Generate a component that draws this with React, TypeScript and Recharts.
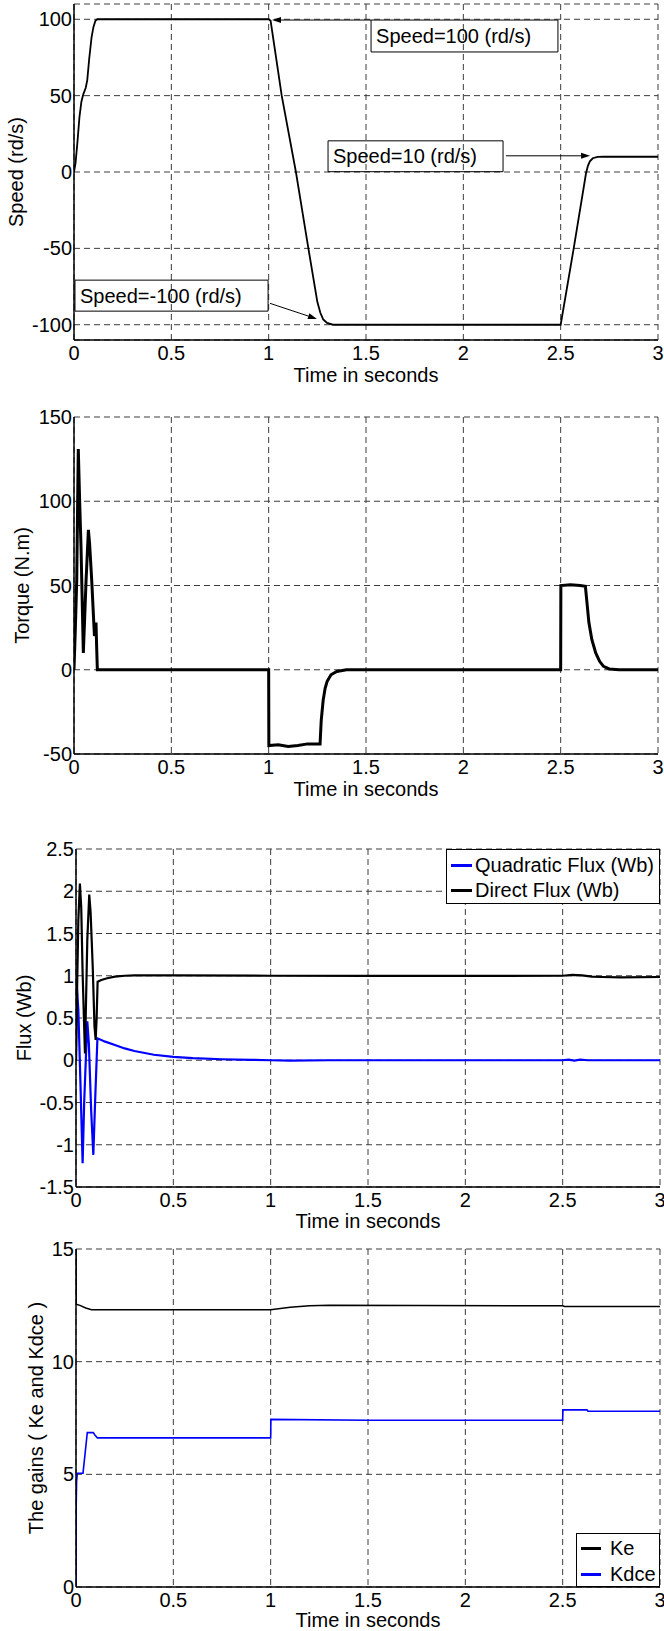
import React from "react";
import {
    LineChart,
    Line,
    XAxis,
    YAxis,
    CartesianGrid,
    ReferenceArea,
    ReferenceLine
} from "recharts";

const FONT = '"Liberation Sans", Arial, Helvetica, sans-serif';

const timeTicks = [0, 0.5, 1, 1.5, 2, 2.5, 3];

// Speed (rd/s)
const speedTime = [
    0, 0.008, 0.018, 0.028, 0.038, 0.048, 0.06, 0.068, 0.078, 0.09, 0.1, 0.11, 0.12,
    1.0, 1.01, 1.067, 1.14, 1.204, 1.25, 1.265, 1.28, 1.3, 1.33,
    2.5, 2.567, 2.63, 2.64, 2.65, 2.665, 2.69, 2.72, 3.0
];
const speedValue = [
    0, 6, 20, 36, 46, 51, 55, 60, 74, 88, 95, 99, 100,
    100, 99, 50, 0, -50, -85, -92, -96.5, -98.8, -100,
    -100, -50, -1, 4, 7, 9, 9.9, 10, 10
];
const speedTicks = [-100, -50, 0, 50, 100];

// Torque (N.m)
const torqueTime = [
    0, 0.007, 0.014, 0.022, 0.029, 0.036, 0.048, 0.062, 0.074, 0.08, 0.091, 0.105, 0.109,
    0.113, 0.116, 0.12, 0.3, 0.6, 0.9, 1.0,
    1.001, 1.05, 1.1, 1.15, 1.2, 1.264, 1.27, 1.28, 1.29, 1.3, 1.32, 1.35, 1.4, 2.0, 2.5,
    2.501, 2.55, 2.6, 2.627, 2.635, 2.645, 2.66, 2.68, 2.7, 2.72, 2.75, 2.8, 3.0
];
const torqueValue = [
    0, 25, 53, 131, 100, 73, 10, 53, 83, 75, 53, 20, 22,
    28, 15, 0, 0, 0, 0, 0,
    -45, -44.5, -45.5, -45, -44, -44, -30, -18, -11, -7, -3, -1, 0, 0, 0,
    50, 50.5, 50, 49.5, 40, 28, 18, 10, 5, 2, 0.5, 0, 0
];
const torqueTicks = [-50, 0, 50, 100, 150];

// Flux (Wb)
const directFluxTime = [
    0, 0.006, 0.012, 0.02, 0.027, 0.034, 0.046, 0.058, 0.068, 0.075, 0.086, 0.095, 0.101,
    0.106, 0.111, 0.13, 0.16, 0.2, 0.25, 0.3, 0.5, 1.0, 1.5, 2.0, 2.5, 2.55, 2.6, 2.65, 2.7, 2.8, 3.0
];
const directFluxValue = [
    0, 0.9, 1.66, 2.09, 1.8, 1.03, 0.08, 1.42, 1.96, 1.75, 1.1, 0.4, 0.24,
    0.5, 0.93, 0.95, 0.97, 0.99, 1.0, 1.005, 1.005, 1.0, 0.998, 0.998, 1.0, 1.01, 1.005, 0.99, 0.985, 0.98, 0.985
];
const quadFluxTime = [
    0, 0.003, 0.012, 0.022, 0.034, 0.042, 0.058, 0.066, 0.078, 0.089, 0.098, 0.11,
    0.15, 0.2, 0.25, 0.3, 0.4, 0.5, 0.6, 0.75, 0.9, 1.0, 1.1, 1.3, 2.5, 2.53, 2.56, 2.59, 2.63, 3.0
];
const quadFluxValue = [
    0, 0.92, 0.6, -0.2, -1.22, -0.5, 0.46, 0.2, -0.6, -1.12, -0.5, 0.26,
    0.22, 0.18, 0.14, 0.11, 0.065, 0.04, 0.025, 0.012, 0.005, 0, -0.005, 0, 0, 0.008, -0.004, 0.008, 0, 0
];
const fluxTicks = [-1.5, -1, -0.5, 0, 0.5, 1, 1.5, 2, 2.5];

// Gains
const keTime = [0, 0.001, 0.02, 0.05, 0.08, 1.0, 1.05, 1.1, 1.2, 1.3, 2.5, 2.51, 2.6, 3.0];
const keValue = [15, 12.55, 12.5, 12.38, 12.3, 12.3, 12.36, 12.42, 12.48, 12.5, 12.48, 12.45, 12.45, 12.45];
const kdceTime = [0, 0.001, 0.003, 0.007, 0.036, 0.058, 0.089, 0.097, 0.11, 1.0, 1.001, 1.5, 2.5, 2.501, 2.625, 2.63, 3.0];
const kdceValue = [0, 3.6, 4.7, 5.05, 5.05, 6.85, 6.85, 6.75, 6.62, 6.62, 7.44, 7.4, 7.4, 7.86, 7.86, 7.8, 7.8];
const gainTicks = [0, 5, 10, 15];

const fluxSeries = [
    { name: "Quadratic Flux (Wb)", color: "#0000ff" },
    { name: "Direct Flux (Wb)", color: "#000000" }
];
const gainSeries = [
    { name: "Ke", color: "#000000" },
    { name: "Kdce", color: "#0000ff" }
];

// text boxes and arrows of the speed plot, in data units
const speedNotes = [
    { text: "Speed=100 (rd/s)", box: [1.526, 2.486, 78.6, 99.5], arrow: [1.526, 99.5, 1.017, 99.5] },
    { text: "Speed=10 (rd/s)", box: [1.305, 2.204, 0.2, 20.4], arrow: [2.219, 10.6, 2.651, 10.6] },
    { text: "Speed=-100 (rd/s)", box: [0.005, 0.997, -91.1, -70.8], arrow: [1.007, -86, 1.248, -96.2] }
];

const toPoints = (ts: number[], vs: number[]) => ts.map((t, i) => ({ t, v: vs[i] }));

const textStyle = { fontSize: 20, fill: "#000", fontFamily: FONT };
const axisStyle = { stroke: "#000", strokeWidth: 1.5 };

function Arrow(props: any) {
    const { x1, y1, x2, y2 } = props;
    const a = Math.atan2(y2 - y1, x2 - x1);
    const len = 9;
    const half = 3;
    const bx = x2 - len * Math.cos(a);
    const by = y2 - len * Math.sin(a);
    const pts = [
        `${x2},${y2}`,
        `${bx + half * Math.sin(a)},${by - half * Math.cos(a)}`,
        `${bx - half * Math.sin(a)},${by + half * Math.cos(a)}`
    ].join(" ");
    return (
        <g>
            <line x1={x1} y1={y1} x2={bx} y2={by} stroke="#000" strokeWidth={1} />
            <polygon points={pts} fill="#000" />
        </g>
    );
}

type PanelProps = {
    top: number;
    bottom: number;
    left: number;
    right: number;
    yDomain: [number, number];
    yTicks: number[];
    yLabel: string;
    yLabelX: number;
    xLabelDrop: number;
    xAxisHeight: number;
    children?: React.ReactNode;
};

function Panel({ top, bottom, left, right, yDomain, yTicks, yLabel, yLabelX, xLabelDrop, xAxisHeight, children }: PanelProps) {
    const pad = 14;
    const height = bottom - top + pad + xAxisHeight;
    return (
        <div style={{ position: "absolute", left: 0, top: top - pad }}>
            <LineChart
                width={664}
                height={height}
                margin={{ top: pad, right: 664 - right, bottom: 0, left: 0 }}
            >
                <CartesianGrid stroke="#3c3c3c" strokeDasharray="6 4" strokeWidth={1} />
                <XAxis
                    dataKey="t"
                    type="number"
                    domain={[0, 3]}
                    ticks={timeTicks}
                    allowDataOverflow
                    interval={0}
                    tickLine={false}
                    tickSize={0}
                    tickMargin={6}
                    fontSize={20}
                    fontFamily={FONT}
                    tick={textStyle}
                    axisLine={axisStyle}
                    height={xAxisHeight}
                    label={{
                        value: "Time in seconds",
                        position: "insideBottom",
                        offset: xAxisHeight - xLabelDrop,
                        ...textStyle,
                        style: textStyle
                    }}
                />
                <XAxis
                    xAxisId="top"
                    orientation="top"
                    type="number"
                    domain={[0, 3]}
                    tick={false}
                    tickLine={false}
                    axisLine={axisStyle}
                    height={0}
                />
                <YAxis
                    type="number"
                    domain={yDomain}
                    ticks={yTicks}
                    allowDataOverflow
                    interval={0}
                    tickLine={false}
                    tickSize={0}
                    tickMargin={2}
                    fontSize={20}
                    fontFamily={FONT}
                    tick={textStyle}
                    axisLine={axisStyle}
                    width={left}
                    label={{
                        value: yLabel,
                        angle: -90,
                        position: "insideLeft",
                        offset: yLabelX,
                        ...textStyle,
                        style: { ...textStyle, textAnchor: "middle" }
                    }}
                />
                <YAxis
                    yAxisId="right"
                    orientation="right"
                    type="number"
                    domain={[0, 1]}
                    tick={false}
                    tickLine={false}
                    axisLine={axisStyle}
                    width={0}
                />
                {children}
            </LineChart>
        </div>
    );
}

function LegendBox({
    items,
    left,
    top,
    width,
    rowTop,
    rowGap,
    sampleLeft,
    sampleWidth,
    textLeft
}: {
    items: { name: string; color: string }[];
    left: number;
    top: number;
    width: number;
    rowTop: number;
    rowGap: number;
    sampleLeft: number;
    sampleWidth: number;
    textLeft: number;
}) {
    return (
        <div
            style={{
                position: "absolute",
                left,
                top,
                width,
                height: rowTop * 2 + rowGap,
                boxSizing: "border-box",
                border: "1.5px solid #000",
                background: "#fff",
                fontFamily: FONT,
                fontSize: 20,
                color: "#000"
            }}
        >
            {items.map((it, i) => (
                <div key={it.name}>
                    <div
                        style={{
                            position: "absolute",
                            left: sampleLeft,
                            top: rowTop + i * rowGap - 1,
                            width: sampleWidth,
                            height: 2.5,
                            background: it.color
                        }}
                    />
                    <div
                        style={{
                            position: "absolute",
                            left: textLeft,
                            top: rowTop + i * rowGap - 12,
                            lineHeight: "24px",
                            whiteSpace: "nowrap"
                        }}
                    >
                        {it.name}
                    </div>
                </div>
            ))}
        </div>
    );
}

export default function App() {
    const speedData = toPoints(speedTime, speedValue);
    const torqueData = toPoints(torqueTime, torqueValue);
    const directData = toPoints(directFluxTime, directFluxValue);
    const quadData = toPoints(quadFluxTime, quadFluxValue);
    const keData = toPoints(keTime, keValue);
    const kdceData = toPoints(kdceTime, kdceValue);

    return (
        <div
            style={{
                position: "absolute",
                left: 0,
                top: 0,
                width: 664,
                height: 1631,
                overflow: "hidden",
                background: "#fff"
            }}
        >
            <Panel top={4} bottom={340} left={74} right={658} yDomain={[-110, 110]} yTicks={speedTicks} yLabel="Speed (rd/s)" yLabelX={16} xLabelDrop={42} xAxisHeight={52}>
                <Line data={speedData} dataKey="v" type="linear" dot={false} stroke="#000" strokeWidth={1.8} isAnimationActive={false} />
                {speedNotes.map((n) => (
                    <ReferenceArea
                        key={n.text}
                        x1={n.box[0]}
                        x2={n.box[1]}
                        y1={n.box[2]}
                        y2={n.box[3]}
                        fill="none"
                        stroke="#000"
                        strokeWidth={1}
                        label={{ value: n.text, position: "insideLeft", offset: 5, ...textStyle, style: textStyle }}
                    />
                ))}
                {speedNotes.map((n) => (
                    <ReferenceLine
                        key={n.text + "-arrow"}
                        segment={[
                            { x: n.arrow[0], y: n.arrow[1] },
                            { x: n.arrow[2], y: n.arrow[3] }
                        ]}
                        shape={Arrow}
                    />
                ))}
            </Panel>

            <Panel top={417} bottom={754} left={74} right={658} yDomain={[-50, 150]} yTicks={torqueTicks} yLabel="Torque (N.m)" yLabelX={22} xLabelDrop={42} xAxisHeight={52}>
                <Line data={torqueData} dataKey="v" type="linear" dot={false} stroke="#000" strokeWidth={3} isAnimationActive={false} />
            </Panel>

            <Panel top={849} bottom={1187} left={76} right={660} yDomain={[-1.5, 2.5]} yTicks={fluxTicks} yLabel="Flux (Wb)" yLabelX={24} xLabelDrop={41} xAxisHeight={52}>
                <Line data={quadData} dataKey="v" type="linear" dot={false} stroke={fluxSeries[0].color} strokeWidth={2.2} isAnimationActive={false} />
                <Line data={directData} dataKey="v" type="linear" dot={false} stroke={fluxSeries[1].color} strokeWidth={2.2} isAnimationActive={false} />
            </Panel>

            <Panel top={1249} bottom={1587} left={76} right={660} yDomain={[0, 15]} yTicks={gainTicks} yLabel="The gains ( Ke and Kdce )" yLabelX={36} xLabelDrop={40} xAxisHeight={44}>
                <Line data={keData} dataKey="v" type="linear" dot={false} stroke={gainSeries[0].color} strokeWidth={1.5} isAnimationActive={false} />
                <Line data={kdceData} dataKey="v" type="linear" dot={false} stroke={gainSeries[1].color} strokeWidth={1.6} isAnimationActive={false} />
            </Panel>

            <LegendBox items={fluxSeries} left={446} top={849} width={214} rowTop={15} rowGap={25} sampleLeft={4} sampleWidth={21} textLeft={28} />
            <LegendBox items={gainSeries} left={576} top={1533} width={84} rowTop={14} rowGap={26} sampleLeft={4} sampleWidth={20} textLeft={33} />
        </div>
    );
}
